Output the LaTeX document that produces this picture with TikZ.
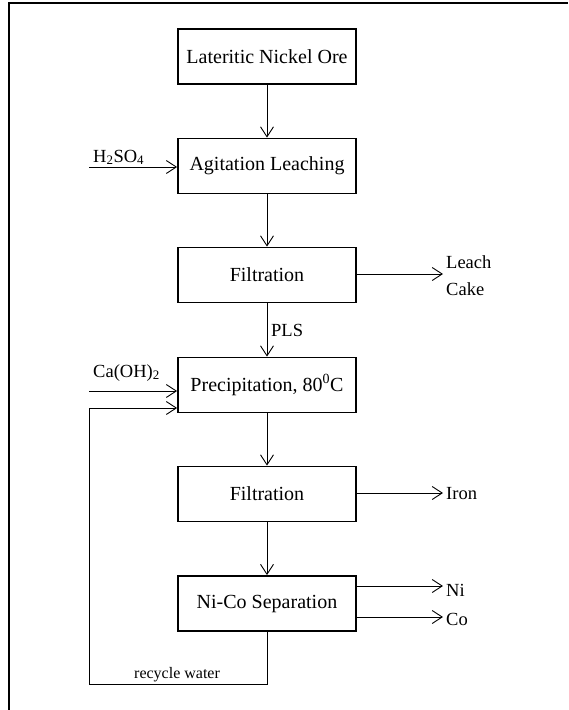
\documentclass[tikz,border=0pt]{standalone}
\usepackage{fontspec}
\setmainfont{Liberation Serif}
\usetikzlibrary{arrows.meta}
\begin{document}
\begin{tikzpicture}[x=1pt,y=-1pt,
  box/.style={draw,line width=1.8pt,minimum width=178pt,minimum height=55pt,inner sep=0pt,font=\fontsize{20}{24}\selectfont},
  flow/.style={line width=0.9pt,-{Straight Barb[length=10pt,width=13pt]}},
  lbl/.style={font=\fontsize{18.5}{27}\selectfont,inner sep=0pt}]
\useasboundingbox (0,0) rectangle (568,710);
\draw[line width=2pt] (9,710) -- (9,3) -- (568,3);

\node[box] (b1) at (267,56.5) {Lateritic Nickel Ore};
\node[box] (b2) at (267,166) {Agitation Leaching};
\node[box] (b3) at (267,275) {Filtration};
\node[box] (b4) at (267,385) {Precipitation, 80\textsuperscript{0}C};
\node[box] (b5) at (267,494) {Filtration};
\node[box] (b6) at (267,603.5) {Ni-Co Separation};

\draw[flow] (b1) -- (b2);
\draw[flow] (b2) -- (b3);
\draw[flow] (b3) -- (b4);
\draw[flow] (b4) -- (b5);
\draw[flow] (b5) -- (b6);

% inputs
\coordinate (h2in) at (89,167);
\draw[flow] (h2in) -- (h2in -| b2.west);
\node[lbl,anchor=base west] (h2so4) at (93,162) {H\textsubscript{2}SO\textsubscript{4}};

\node[lbl,anchor=base west] (pls) at (271,336) {PLS};

\coordinate (cain) at (89,391);
\draw[flow] (cain) -- (cain -| b4.west);
\node[lbl,anchor=base west] (caoh) at (93,377) {Ca(OH)\textsubscript{2}};

% outputs
\coordinate (lc) at (443,274);
\draw[flow] (lc -| b3.east) -- (lc);
\node[lbl,anchor=north west,align=left] (leach) at (446,255) {Leach\\Cake};

\coordinate (fe) at (443,493);
\draw[flow] (fe -| b5.east) -- (fe);
\node[lbl,anchor=base west] (iron) at (446,499) {Iron};

\coordinate (ni) at (443,586);
\draw[flow] (ni -| b6.east) -- (ni);
\node[lbl,anchor=base west] (nil) at (446,596) {Ni};

\coordinate (co) at (443,617);
\draw[flow] (co -| b6.east) -- (co);
\node[lbl,anchor=base west] (col) at (446,625) {Co};

% recycle
\coordinate (rc1) at (267,684);
\coordinate (rc2) at (89,684);
\coordinate (rc3) at (89,408);
\draw[flow] (b6.south) -- (rc1) -- (rc2) -- (rc3) -- (rc3 -| b4.west);
\node[anchor=base west,inner sep=0pt,font=\fontsize{16}{19}\selectfont] (rw) at (134,678) {recycle water};
\end{tikzpicture}
\end{document}
